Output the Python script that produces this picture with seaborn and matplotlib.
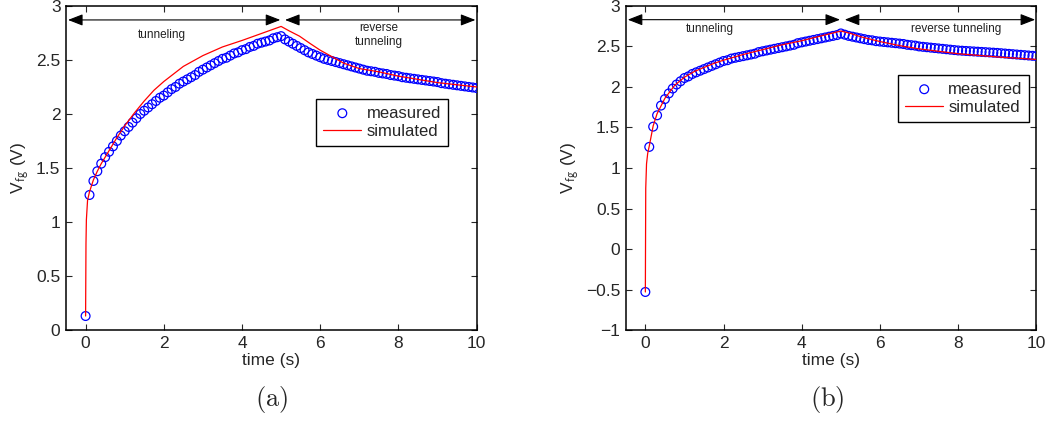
import numpy as np
import matplotlib
matplotlib.use("Agg")
import matplotlib.pyplot as plt
import seaborn as sns

# measured samples every 0.1 s
t_meas = np.round(np.arange(101) * 0.1, 1)

meas_a = [0.13, 1.25, 1.38, 1.47, 1.54, 1.60, 1.65, 1.70, 1.75, 1.80, 1.84,
          1.88, 1.92, 1.96, 2.00, 2.03, 2.06, 2.09, 2.12, 2.15, 2.17,
          2.20, 2.23, 2.25, 2.28, 2.30, 2.32, 2.34, 2.36, 2.39, 2.41,
          2.43, 2.45, 2.47, 2.49, 2.51, 2.52, 2.54, 2.56, 2.57, 2.59,
          2.60, 2.62, 2.63, 2.65, 2.66, 2.67, 2.68, 2.70, 2.71, 2.72,
          2.69, 2.67, 2.65, 2.63, 2.61, 2.59, 2.57, 2.555, 2.54, 2.525,
          2.51, 2.50, 2.49, 2.48, 2.47, 2.46, 2.45, 2.44, 2.43, 2.42,
          2.41, 2.40, 2.395, 2.39, 2.38, 2.375, 2.37, 2.36, 2.355, 2.35,
          2.34, 2.335, 2.33, 2.325, 2.32, 2.315, 2.31, 2.305, 2.30, 2.295,
          2.285, 2.28, 2.275, 2.27, 2.265, 2.26, 2.255, 2.25, 2.245, 2.24]

meas_b = [-0.53, 1.26, 1.51, 1.65, 1.77, 1.85, 1.92, 1.98, 2.03, 2.07, 2.11,
          2.13, 2.16, 2.18, 2.20, 2.22, 2.24, 2.26, 2.28, 2.30, 2.32,
          2.33, 2.35, 2.36, 2.37, 2.38, 2.39, 2.40, 2.41, 2.43, 2.44,
          2.45, 2.46, 2.47, 2.48, 2.49, 2.50, 2.51, 2.52, 2.54, 2.55,
          2.56, 2.57, 2.58, 2.59, 2.60, 2.61, 2.62, 2.63, 2.64, 2.66,
          2.645, 2.63, 2.62, 2.61, 2.60, 2.59, 2.58, 2.575, 2.565, 2.56,
          2.555, 2.55, 2.545, 2.54, 2.535, 2.53, 2.52, 2.515, 2.51, 2.50,
          2.495, 2.49, 2.485, 2.48, 2.475, 2.47, 2.465, 2.46, 2.455, 2.45,
          2.447, 2.444, 2.441, 2.438, 2.435, 2.432, 2.429, 2.426, 2.423, 2.42,
          2.416, 2.412, 2.408, 2.404, 2.40, 2.396, 2.392, 2.388, 2.384, 2.38]

# simulated curves
t_sim_a = [0, 0.01, 0.02, 0.05, 0.1, 0.2, 0.3, 0.4, 0.6, 0.8, 1.0, 1.25, 1.5,
           1.75, 2.0, 2.5, 3.0, 3.5, 4.0, 4.5, 5.0, 5.2, 5.47, 5.75, 6.0,
           6.3, 6.6, 7.0, 7.5, 8.0, 8.5, 9.0, 9.5, 10.0]
sim_a = [0.13, 0.80, 1.02, 1.20, 1.28, 1.39, 1.47, 1.54, 1.66, 1.78, 1.89,
         2.01, 2.12, 2.22, 2.30, 2.44, 2.54, 2.62, 2.68, 2.745, 2.81, 2.77,
         2.72, 2.65, 2.59, 2.53, 2.47, 2.42, 2.39, 2.35, 2.32, 2.29, 2.27, 2.25]

t_sim_b = [0, 0.01, 0.03, 0.06, 0.1, 0.2, 0.3, 0.5, 0.75, 1.0, 1.25, 1.5,
           1.75, 2.0, 2.5, 3.0, 3.5, 4.0, 4.5, 5.0, 5.25, 5.5, 6.0, 6.5, 7.0,
           7.5, 8.0, 8.5, 9.0, 9.5, 10.0]
sim_b = [-0.53, 0.75, 1.05, 1.18, 1.27, 1.52, 1.67, 1.86, 2.02, 2.12, 2.19,
         2.24, 2.29, 2.33, 2.40, 2.46, 2.52, 2.57, 2.63, 2.69, 2.66, 2.62,
         2.56, 2.51, 2.47, 2.44, 2.41, 2.39, 2.37, 2.355, 2.34]

sns.set_style("ticks")
plt.rcParams["font.family"] = ["Liberation Sans", "DejaVu Sans"]
plt.rcParams["mathtext.fontset"] = "cm"

fig = plt.figure(figsize=(10.5, 4.21), dpi=100)
ax_a = fig.add_axes([0.0629, 0.216, 0.391, 0.770])
ax_b = fig.add_axes([0.596, 0.216, 0.391, 0.770])


def draw_panel(ax, t_sim, meas, sim, ylim, yticks, ytlabels, arrow_y, txt_y,
               rev_label, rev_x, tun_x, leg_anchor, ypad):
    sns.scatterplot(x=t_meas, y=meas, ax=ax, marker="o", s=40, facecolor="none",
                    edgecolor="#0000ff", linewidth=0.9, label="measured", zorder=3)
    sns.lineplot(x=t_sim, y=sim, ax=ax, color="#ff0000", linewidth=0.9, sort=False,
                 label="simulated", zorder=4)
    ax.set_xlim(-0.5, 10)
    ax.set_ylim(*ylim)
    ax.set_xticks([0, 2, 4, 6, 8, 10])
    ax.set_yticks(yticks)
    ax.set_yticklabels(ytlabels)
    ax.tick_params(direction="in", length=4, width=0.8, labelsize=12.5, top=True, right=True, pad=4)
    for sp in ax.spines.values():
        sp.set_linewidth(1.1)
        sp.set_color("black")
    ax.set_xlabel("time (s)", fontsize=12.5, labelpad=2)
    ax.set_ylabel(r"V$_{\mathsf{fg}}$ (V)", fontsize=12.5, labelpad=ypad)

    arrow = dict(arrowstyle="<|-|>,head_length=0.9,head_width=0.35", color="black",
                 lw=0.8, shrinkA=0, shrinkB=0)
    ax.annotate("", xy=(4.98, arrow_y), xytext=(-0.45, arrow_y), arrowprops=arrow)
    ax.annotate("", xy=(9.97, arrow_y), xytext=(5.1, arrow_y), arrowprops=arrow)
    ax.text(tun_x, txt_y, "tunneling", fontsize=8.5, ha="center", va="center", color="#222222")
    ax.text(rev_x, txt_y, rev_label, fontsize=8.5, ha="center", va="center",
            color="#222222", linespacing=1.3)

    leg = ax.legend(loc="upper left", bbox_to_anchor=leg_anchor,
                    fontsize=12, frameon=True, fancybox=False, framealpha=1,
                    borderaxespad=0, handlelength=2.3, handletextpad=0.3,
                    borderpad=0.4, labelspacing=0.2)
    leg.get_frame().set_edgecolor("black")
    leg.get_frame().set_linewidth(1.0)


draw_panel(ax_a, t_sim_a, meas_a, sim_a, (0, 3), [0, 0.5, 1, 1.5, 2, 2.5, 3],
           ["0", "0.5", "1", "1.5", "2", "2.5", "3"],
           2.87, 2.73, "reverse\ntunneling", 7.5, 1.95, (0.61, 0.713), 3)
draw_panel(ax_b, t_sim_b, meas_b, sim_b, (-1, 3), [-1, -0.5, 0, 0.5, 1, 1.5, 2, 2.5, 3],
           ["\u22121", "\u22120.5", "0", "0.5", "1", "1.5", "2", "2.5", "3"],
           2.83, 2.71, "reverse tunneling", 7.96, 1.65, (0.664, 0.787), 3)

fig.text(0.259, 0.05, r"$\mathrm{(a)}$", fontsize=19, ha="center", va="center")
fig.text(0.788, 0.05, r"$\mathrm{(b)}$", fontsize=19, ha="center", va="center")

fig.savefig("out.png", dpi=100)
